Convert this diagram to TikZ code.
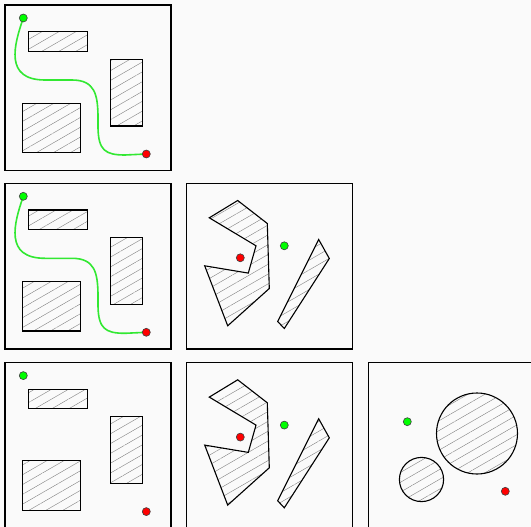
\documentclass[tikz,border=0pt]{standalone}
\usetikzlibrary{patterns.meta}
\definecolor{paper}{RGB}{250,250,250}
\definecolor{routegreen}{RGB}{50,232,50}
\tikzset{
    frame/.style={draw=black, line width=1.4pt},
    obstacle/.style={draw=black, line width=1.1pt,
        pattern={Lines[angle=30,distance=8.5pt,line width=0.4pt]}, pattern color=gray},
    start/.style={fill=green, draw=black!75, line width=0.6pt},
    goal/.style={fill=red, draw=black!75, line width=0.6pt},
    route/.style={draw=routegreen, line width=1.6pt, line cap=round},
}
% start and goal markers
\newcommand{\StartGoal}[2]{
    \path[start] (#1) circle (4);
    \path[goal] (#2) circle (4);
}
% box world
\newcommand{\RectWorld}{
    \draw[frame] (0,0) rectangle (166,165.5);
    \draw[obstacle] (23.7,26.7) rectangle (82.3,46.3);
    \draw[obstacle] (105.7,54.3) rectangle (137.7,121);
    \draw[obstacle] (17.7,98.3) rectangle (75.3,147.7);
}
\newcommand{\RectRoute}{
    \draw[route] (18.3,13) .. controls (9,40) and (-1,75) .. (40,75)
        -- (67,75) .. controls (90,75) and (92.5,90) .. (93,110)
        -- (93,123) .. controls (93.5,145) and (100,150) .. (120,150)
        -- (141.3,149);
}
% polygon world
\newcommand{\PolyWorld}{
    \draw[frame] (0,0) rectangle (166,165.5);
    \draw[obstacle] (22.6,34.5) -- (51,17.2) -- (80.6,40.2) -- (82.6,105.2)
        -- (41,142.5) -- (18,82.5) -- (61.6,89.8) -- (69.3,62.5) -- cycle;
    \draw[obstacle] (132,56.2) -- (142.6,75.2) -- (97.6,145.2) -- (91,138.2) -- cycle;
}
% disk world
\newcommand{\DiskWorld}{
    \draw[frame] (0,0) rectangle (166,165.5);
    \draw[obstacle] (108.7,70.9) circle (40.5);
    \draw[obstacle] (53.2,116.9) circle (22.1);
}

\begin{document}
\begin{tikzpicture}[x=1pt, y=-1pt]
    \fill[paper] (0,0) rectangle (531,527);
    \useasboundingbox (0,0) rectangle (531,527);
    \clip (0,0) rectangle (531,527);

    % first row
    \begin{scope}[shift={(5,5)}]
        \RectWorld
        \RectRoute
        \StartGoal{18.3,13}{141.3,149}
    \end{scope}

    % second row
    \begin{scope}[shift={(5,183.3)}]
        \RectWorld
        \RectRoute
        \StartGoal{18.3,13}{141.3,149}
    \end{scope}
    \begin{scope}[shift={(186.7,183.3)}]
        \PolyWorld
        \StartGoal{97.6,62.5}{53.6,74.5}
    \end{scope}

    % third row
    \begin{scope}[shift={(5,362.6)}]
        \RectWorld
        \StartGoal{18.3,13}{141.3,149}
    \end{scope}
    \begin{scope}[shift={(186.7,362.6)}]
        \PolyWorld
        \StartGoal{97.6,62.5}{53.6,74.5}
    \end{scope}
    \begin{scope}[shift={(368.3,362.6)}]
        \DiskWorld
        \StartGoal{39,59.1}{137,128.7}
    \end{scope}
\end{tikzpicture}
\end{document}
